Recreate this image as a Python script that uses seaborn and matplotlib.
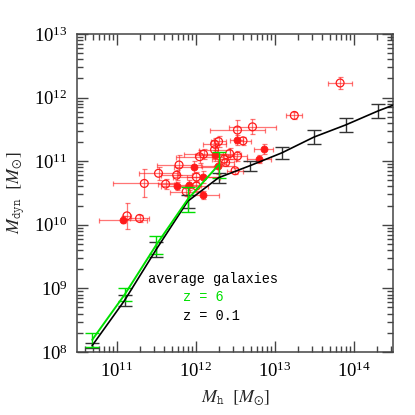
import matplotlib

matplotlib.use("Agg")
import matplotlib.pyplot as plt
import numpy as np
import pandas as pd
import seaborn as sns
from matplotlib.ticker import LogLocator, NullFormatter

# average galaxies, log10 halo mass and dynamical mass
avg_logmh = [10.69, 11.10, 11.50, 11.90, 12.29, 12.69, 13.09, 13.50, 13.90, 14.31, 14.71]
z01_logmdyn = [8.10, 8.81, 9.61, 10.37, 10.74, 10.93, 11.13, 11.38, 11.57, 11.79, 11.98]
z01_err = [0.04, 0.09, 0.12, 0.10, 0.08, 0.08, 0.10, 0.11, 0.11, 0.11, 0.11]
z6_logmh = [10.69, 11.10, 11.50, 11.90, 12.29]
z6_logmdyn = [8.19, 8.90, 9.68, 10.40, 10.94]
z6_err = [0.11, 0.10, 0.14, 0.20, 0.20]

# observed galaxies, filled symbols
fill_logmh = [11.08, 11.76, 11.915, 11.98, 12.09, 12.09, 12.24, 12.28, 12.52, 12.80, 12.86]
fill_logmdyn = [10.08, 10.61, 10.62, 10.91, 10.75, 10.47, 11.10, 10.92, 11.33, 11.03, 11.19]
fill_xerr = [0.30, 0.20, 0.15, 0.25, 0.20, 0.20, 0.25, 0.20, 0.08, 0.15, 0.12]
fill_yerr = [0.05, 0.06, 0.08, 0.10, 0.10, 0.06, 0.10, 0.12, 0.08, 0.06, 0.08]

# observed galaxies, open symbols
open_logmh = [11.13, 11.29, 11.35, 11.53, 11.62, 11.76, 11.79, 11.88, 12.01, 12.05, 12.10,
              12.24, 12.29, 12.24, 12.36, 12.38, 12.43, 12.53, 12.60, 12.72, 12.53, 12.50,
              12.01, 13.25, 13.83]
open_logmdyn = [10.14, 10.10, 10.65, 10.81, 10.64, 10.78, 10.94, 10.52, 10.75, 11.07, 11.11,
                11.27, 11.31, 11.18, 11.03, 10.98, 11.12, 11.49, 11.32, 11.54, 11.08, 10.85,
                10.61, 11.72, 12.23]
open_xerr = [0.05, 0.12, 0.40, 0.25, 0.10, 0.20, 0.28, 0.20, 0.30, 0.30, 0.25,
             0.15, 0.10, 0.20, 0.15, 0.10, 0.15, 0.35, 0.10, 0.30, 0.12, 0.10,
             0.15, 0.10, 0.15]
open_yerr = [0.20, 0.05, 0.22, 0.10, 0.08, 0.08, 0.15, 0.06, 0.08, 0.10, 0.08,
             0.10, 0.08, 0.10, 0.08, 0.06, 0.08, 0.15, 0.06, 0.12, 0.08, 0.05,
             0.08, 0.06, 0.10]

GREEN = "#00e000"
RED = "#ff1a1a"
AXCOL = "#444444"


def log_err(logv, err):
    logv = np.asarray(logv)
    err = np.asarray(err)
    v = 10 ** logv
    return v, np.vstack([v - 10 ** (logv - err), 10 ** (logv + err) - v])


sns.set_theme(style="ticks")
plt.rcParams.update({
    "font.family": ["Liberation Serif", "DejaVu Serif"],
    "mathtext.fontset": "stix",
    "axes.edgecolor": AXCOL,
    "axes.linewidth": 1.1,
    "xtick.color": AXCOL,
    "ytick.color": AXCOL,
    "xtick.labelcolor": "black",
    "ytick.labelcolor": "black",
})

fig = plt.figure(figsize=(4.15, 4.15), dpi=100)
ax = fig.add_axes([0.186, 0.152, 0.761, 0.766])
ax.set_xscale("log")
ax.set_yscale("log")

# red error bars first, symbols on top
for lx, ly, ex, ey in [(fill_logmh, fill_logmdyn, fill_xerr, fill_yerr),
                       (open_logmh, open_logmdyn, open_xerr, open_yerr)]:
    x, xe = log_err(lx, ex)
    y, ye = log_err(ly, ey)
    ax.errorbar(x, y, xerr=xe, yerr=ye, fmt="none", ecolor=RED, alpha=0.6,
                elinewidth=0.9, capsize=1.8, capthick=0.9, zorder=2)

obs = pd.DataFrame({
    "mh": 10 ** np.array(open_logmh + fill_logmh),
    "mdyn": 10 ** np.array(open_logmdyn + fill_logmdyn),
    "kind": ["open"] * len(open_logmh) + ["filled"] * len(fill_logmh),
})
sns.scatterplot(data=obs[obs["kind"] == "open"], x="mh", y="mdyn", ax=ax, marker="o",
                s=32, facecolor="none", edgecolor=RED, linewidth=0.9, zorder=3, legend=False)
sns.scatterplot(data=obs[obs["kind"] == "filled"], x="mh", y="mdyn", ax=ax, marker="o",
                s=26, color=RED, edgecolor=RED, linewidth=0.5, zorder=3, legend=False)

# average relations
for lx, ly, le, col, lw in [(avg_logmh, z01_logmdyn, z01_err, "black", 1.2),
                            (z6_logmh, z6_logmdyn, z6_err, GREEN, 1.4)]:
    x = 10 ** np.asarray(lx)
    y, ye = log_err(ly, le)
    ecol = "#333333" if col == "black" else GREEN
    ax.errorbar(x, y, yerr=ye, fmt="none", ecolor=ecol, elinewidth=1.0,
                capsize=5, capthick=1.0, zorder=4)
    sns.lineplot(x=x, y=y, ax=ax, color=col, lw=lw, zorder=5, estimator=None, sort=False)

ax.set_xlim(10 ** 10.5, 10 ** 14.5)
ax.set_ylim(1e8, 1e13)

for axis in (ax.xaxis, ax.yaxis):
    axis.set_major_locator(LogLocator(base=10, numticks=20))
    axis.set_minor_locator(LogLocator(base=10, subs=np.arange(2, 10), numticks=20))
    axis.set_minor_formatter(NullFormatter())
ax.tick_params(which="both", direction="in", top=True, right=True, width=1.0)
ax.tick_params(which="major", length=8, labelsize=13.5, pad=7)
ax.tick_params(which="minor", length=4)

ax.set_xlabel(r"$M_{\mathtt{h}}\ \ [M_{\odot}]$", fontsize=13, labelpad=5)
ax.set_ylabel(r"$M_{\mathtt{dyn}}\ \ [M_{\odot}]$", fontsize=13, labelpad=5)

mono = ["Liberation Mono", "DejaVu Sans Mono"]
ax.text(0.225, 0.23, "average galaxies", transform=ax.transAxes, family=mono,
        fontsize=9.8, color="black", va="center")
ax.text(0.335, 0.173, "z = 6", transform=ax.transAxes, family=mono,
        fontsize=9.8, color=GREEN, va="center")
ax.text(0.335, 0.113, "z = 0.1", transform=ax.transAxes, family=mono,
        fontsize=9.8, color="black", va="center")

fig.savefig("out.png", dpi=100)
plt.close(fig)
